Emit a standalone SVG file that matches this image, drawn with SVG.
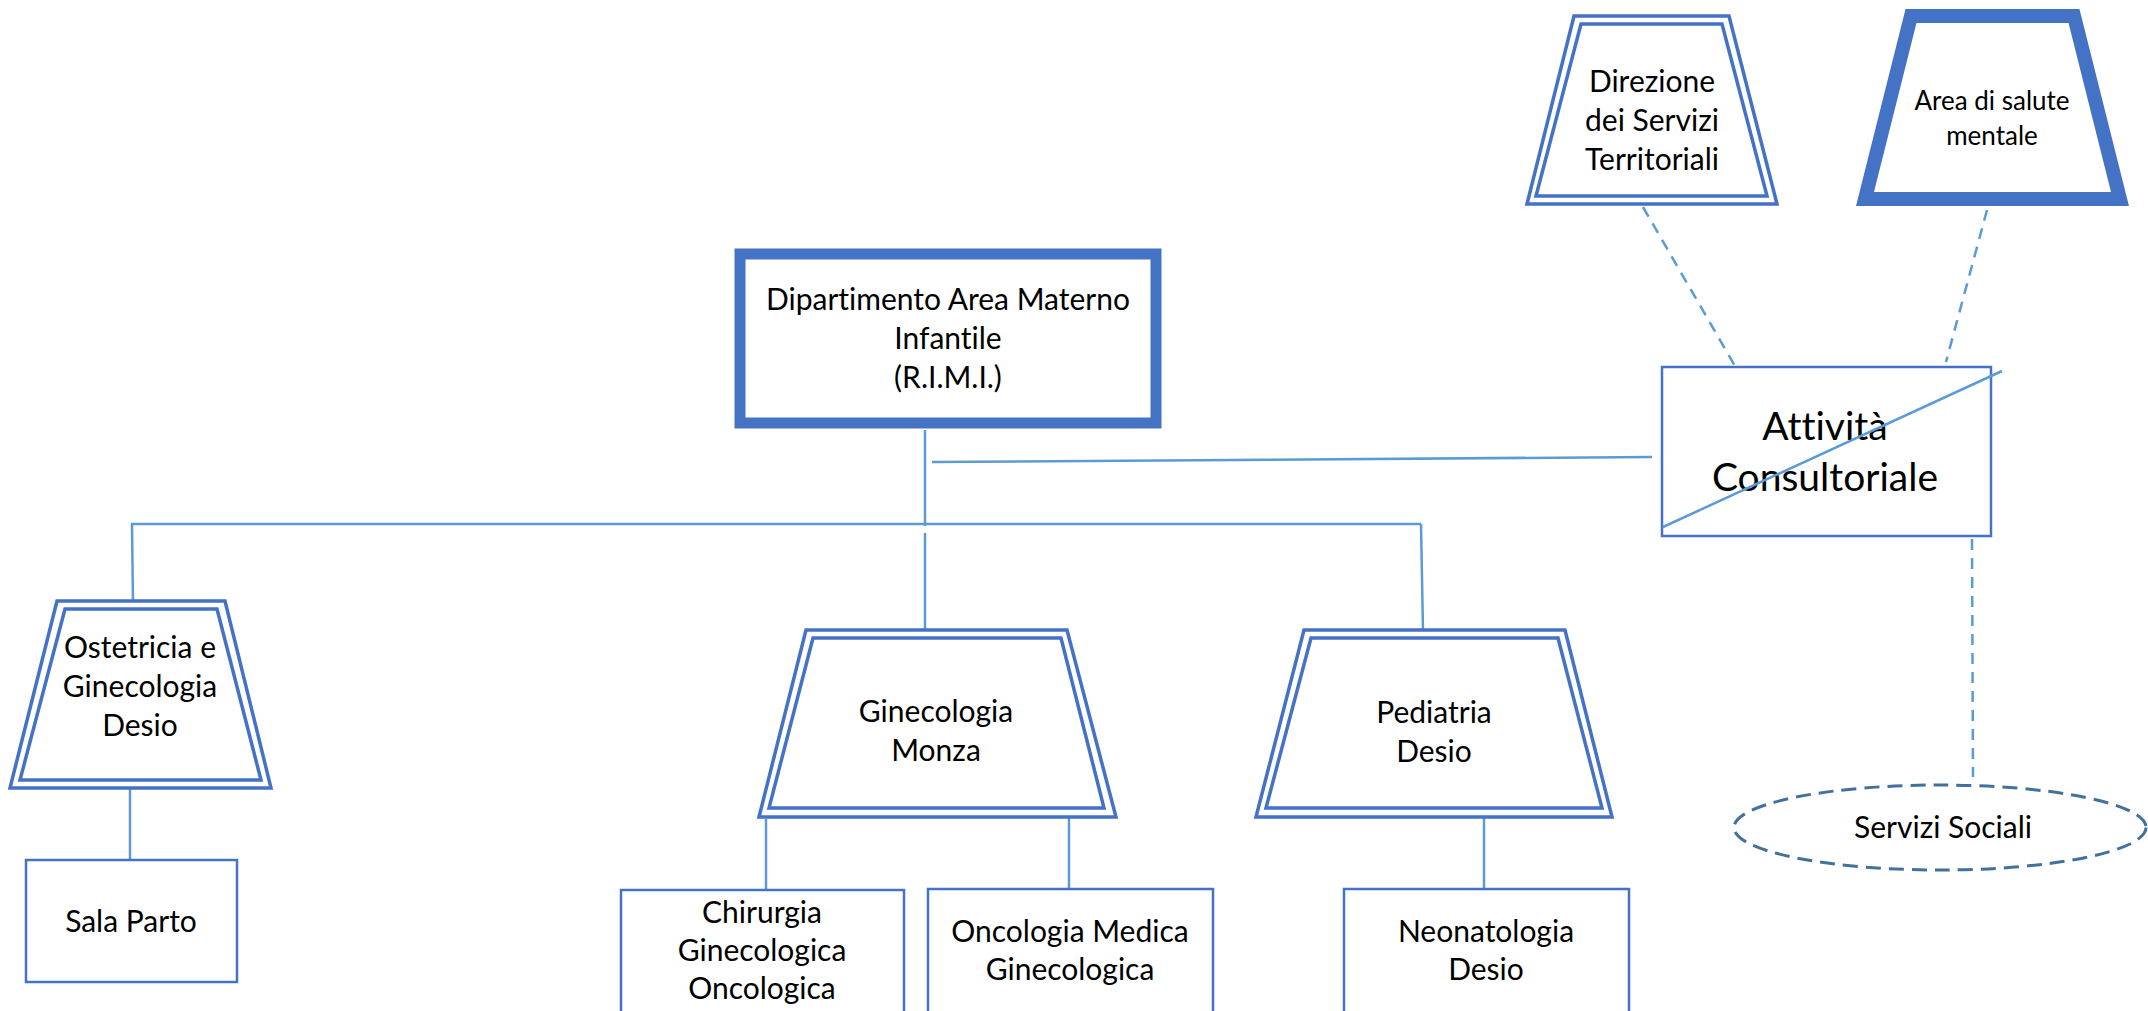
<svg xmlns="http://www.w3.org/2000/svg" width="2148" height="1011" viewBox="0 0 2148 1011">
<style>
.bg{fill:#ffffff}
.node{fill:#ffffff;stroke:#4472C4}
.dbl{fill:none;stroke:#4472C4;stroke-width:3.5}
.box{fill:#ffffff;stroke:#4472C4;stroke-width:2.5}
.con{fill:none;stroke:#5B9BD5;stroke-width:2.5}
.dash{fill:none;stroke:#5B9BD5;stroke-width:2.5;stroke-dasharray:11 8}
.t{font-family:Lato,"Open Sans","Liberation Sans",sans-serif;font-size:30px;fill:#000000;text-anchor:middle;font-variant-ligatures:none;font-feature-settings:"liga" 0,"clig" 0}
.tb{font-size:39px}
.ts{font-size:26px}
</style>
<rect class="bg" x="0" y="0" width="2148" height="1011"/>
<g id="connectors">
<line class="con" x1="925" y1="430" x2="925" y2="526"/>
<line class="con" x1="925" y1="533" x2="925" y2="633"/>
<line class="con" x1="932" y1="462" x2="1652" y2="457"/>
<line class="con" x1="131" y1="524" x2="1421" y2="524"/>
<line class="con" x1="132" y1="524" x2="133" y2="603"/>
<line class="con" x1="1421" y1="524" x2="1423" y2="632"/>
<line class="con" x1="130" y1="787" x2="130" y2="860"/>
<line class="con" x1="766" y1="819" x2="766" y2="889"/>
<line class="con" x1="1069" y1="810" x2="1069" y2="889"/>
<line class="con" x1="1484" y1="817" x2="1484" y2="889"/>
<line class="dash" x1="1643" y1="207" x2="1735" y2="366"/>
<line class="dash" x1="1987" y1="210" x2="1946" y2="362"/>
<line class="dash" x1="1972" y1="539" x2="1973" y2="777"/>
</g>
<g id="dipartimento">
<rect class="node" x="740" y="254" width="416" height="169" stroke-width="11"/>
<text class="t" x="948" y="310">Dipartimento Area Materno</text>
<text class="t" x="948" y="349">Infantile</text>
<text class="t" x="948" y="388">(R.I.M.I.)</text>
</g>
<g id="ostetricia">
<polygon class="node" stroke-width="3.5" points="57,601 225,601 271,788 10,788"/>
<polygon class="dbl" points="65,609 217,609 261,780 20,780"/>
<text class="t" x="140" y="658">Ostetricia e</text>
<text class="t" x="140" y="697">Ginecologia</text>
<text class="t" x="140" y="736">Desio</text>
</g>
<g id="ginecologia-monza">
<polygon class="node" stroke-width="3.5" points="806,630 1067,630 1116,817 759,817"/>
<polygon class="dbl" points="813,638 1061,638 1104,808 769,808"/>
<text class="t" x="936" y="722">Ginecologia</text>
<text class="t" x="936" y="761">Monza</text>
</g>
<g id="pediatria">
<polygon class="node" stroke-width="3.5" points="1304,630 1565,630 1612,817 1256,817"/>
<polygon class="dbl" points="1311,638 1558,638 1602,808 1266,808"/>
<text class="t" x="1434" y="723">Pediatria</text>
<text class="t" x="1434" y="762">Desio</text>
</g>
<g id="direzione">
<polygon class="node" stroke-width="3.5" points="1574,16 1729,16 1777,204 1527,204"/>
<polygon class="dbl" points="1581,24 1722,24 1767,196 1536,196"/>
<text class="t" x="1652" y="92">Direzione</text>
<text class="t" x="1652" y="131">dei Servizi</text>
<text class="t" x="1652" y="170">Territoriali</text>
</g>
<g id="salute-mentale">
<polygon class="node" stroke-width="14" points="1911,16 2074,16 2120,199 1865,199"/>
<text class="t ts" x="1992" y="110">Area di salute</text>
<text class="t ts" x="1992" y="145">mentale</text>
</g>
<g id="attivita">
<rect class="box" x="1662" y="367" width="329" height="169"/>
<text class="t tb" x="1825" y="440">Attività</text>
<text class="t tb" x="1825" y="491">Consultoriale</text>
<line class="con" x1="1663" y1="527" x2="2002" y2="371"/>
</g>
<g id="sala-parto">
<rect class="box" x="26" y="860" width="211" height="122"/>
<text class="t" x="131" y="932">Sala Parto</text>
</g>
<g id="chirurgia">
<rect class="box" x="621" y="890" width="283" height="130"/>
<text class="t" x="762" y="923">Chirurgia</text>
<text class="t" x="762" y="961">Ginecologica</text>
<text class="t" x="762" y="999">Oncologica</text>
</g>
<g id="oncologia-medica">
<rect class="box" x="928" y="889" width="285" height="130"/>
<text class="t" x="1070" y="942">Oncologia Medica</text>
<text class="t" x="1070" y="980">Ginecologica</text>
</g>
<g id="neonatologia">
<rect class="box" x="1344" y="889" width="285" height="130"/>
<text class="t" x="1486" y="942">Neonatologia</text>
<text class="t" x="1486" y="980">Desio</text>
</g>
<g id="servizi-sociali">
<ellipse cx="1940" cy="827.5" rx="206" ry="42.5" fill="#ffffff" stroke="#41719C" stroke-width="3" stroke-dasharray="15 8"/>
<text class="t" x="1943" y="838">Servizi Sociali</text>
</g>
</svg>
